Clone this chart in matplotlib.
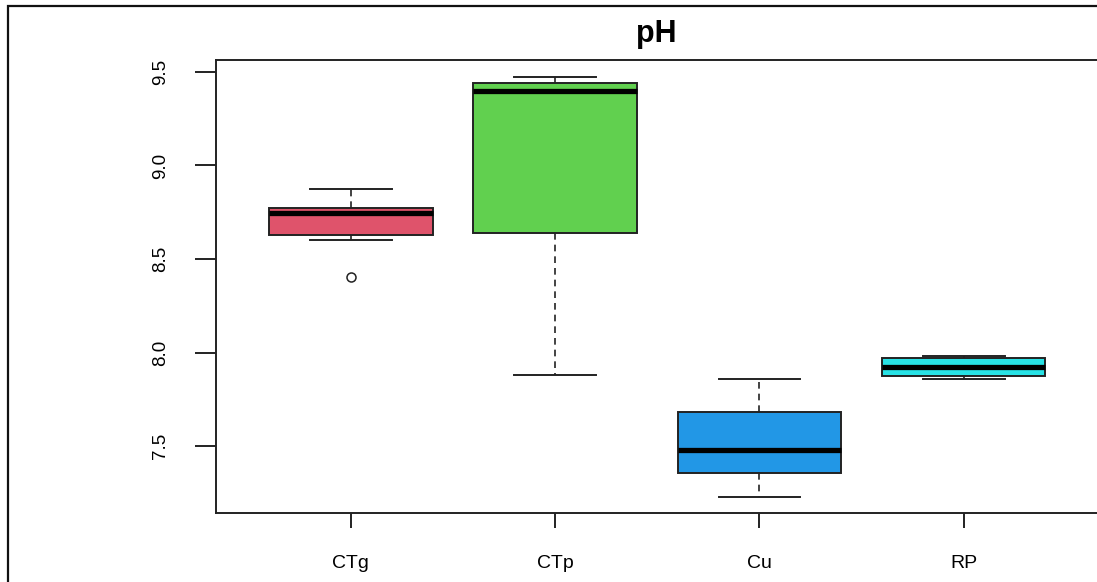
import matplotlib
matplotlib.use("Agg")
import matplotlib.pyplot as plt
from matplotlib.patches import Rectangle

plt.rcParams['font.family'] = ['Liberation Sans', 'DejaVu Sans']

# valores (pH por grupo)
grupos = ['CTg', 'CTp', 'Cu', 'RP']
minimos = [8.60, 7.88, 7.23, 7.86]
q1 = [8.63, 8.64, 7.355, 7.873]
medianas = [8.745, 9.40, 7.477, 7.922]
q3 = [8.773, 9.44, 7.682, 7.971]
maximos = [8.873, 9.473, 7.857, 7.98]
outliers = [[8.405], [], [], []]
cores = ['#DF536B', '#61D04F', '#2297E6', '#28E2E5']

W, H = 1097, 582
fig = plt.figure(figsize=(W / 100, H / 100), dpi=100)

# moldura externa (borda da captura)
fig.patches.append(Rectangle((7.5 / W, -0.05), 1.2, 1 - 6.0 / H + 0.05,
                             transform=fig.transFigure, fill=False,
                             edgecolor='#111111', linewidth=1.6))

ax = fig.add_axes([216 / W, 1 - 513 / H, (1098.5 - 216) / W, (513 - 60) / H])

stats = []
for i in range(len(grupos)):
    stats.append(dict(label=grupos[i], whislo=minimos[i], q1=q1[i], med=medianas[i],
                      q3=q3[i], whishi=maximos[i], fliers=outliers[i]))

bp = ax.bxp(stats, positions=range(1, 5), widths=0.8, capwidths=0.4,
            patch_artist=True, manage_ticks=False,
            boxprops=dict(edgecolor='#222222', linewidth=1.4),
            medianprops=dict(color='black', linewidth=3.8, solid_capstyle='butt'),
            whiskerprops=dict(color='#222222', linewidth=1.2, linestyle=(0, (4, 3))),
            capprops=dict(color='#222222', linewidth=1.4),
            flierprops=dict(marker='o', markerfacecolor='none', markeredgecolor='#222222',
                            markersize=6.5, markeredgewidth=1.1))
for caixa, cor in zip(bp['boxes'], cores):
    caixa.set_facecolor(cor)

ax.set_xlim(0.34, 4.66)
ax.set_ylim(7.142, 9.564)
ax.set_xticks(range(1, 5))
ax.set_xticklabels(grupos)
ax.set_yticks([7.5, 8.0, 8.5, 9.0, 9.5])
ax.set_yticklabels(['7.5', '8.0', '8.5', '9.0', '9.5'], rotation=90, va='center')

for s in ax.spines.values():
    s.set_linewidth(1.4)
    s.set_color('#222222')
ax.tick_params(axis='y', length=15, width=1.4, pad=19, labelsize=13.5, color='#222222')
ax.tick_params(axis='x', length=11, width=1.4, pad=19, labelsize=14, color='#222222')

fig.text((216 + 1097) / 2 / W, 1 - 34 / H, 'pH', ha='center', va='center',
         fontsize=22, fontweight='bold')

fig.savefig('out.png', dpi=100)
